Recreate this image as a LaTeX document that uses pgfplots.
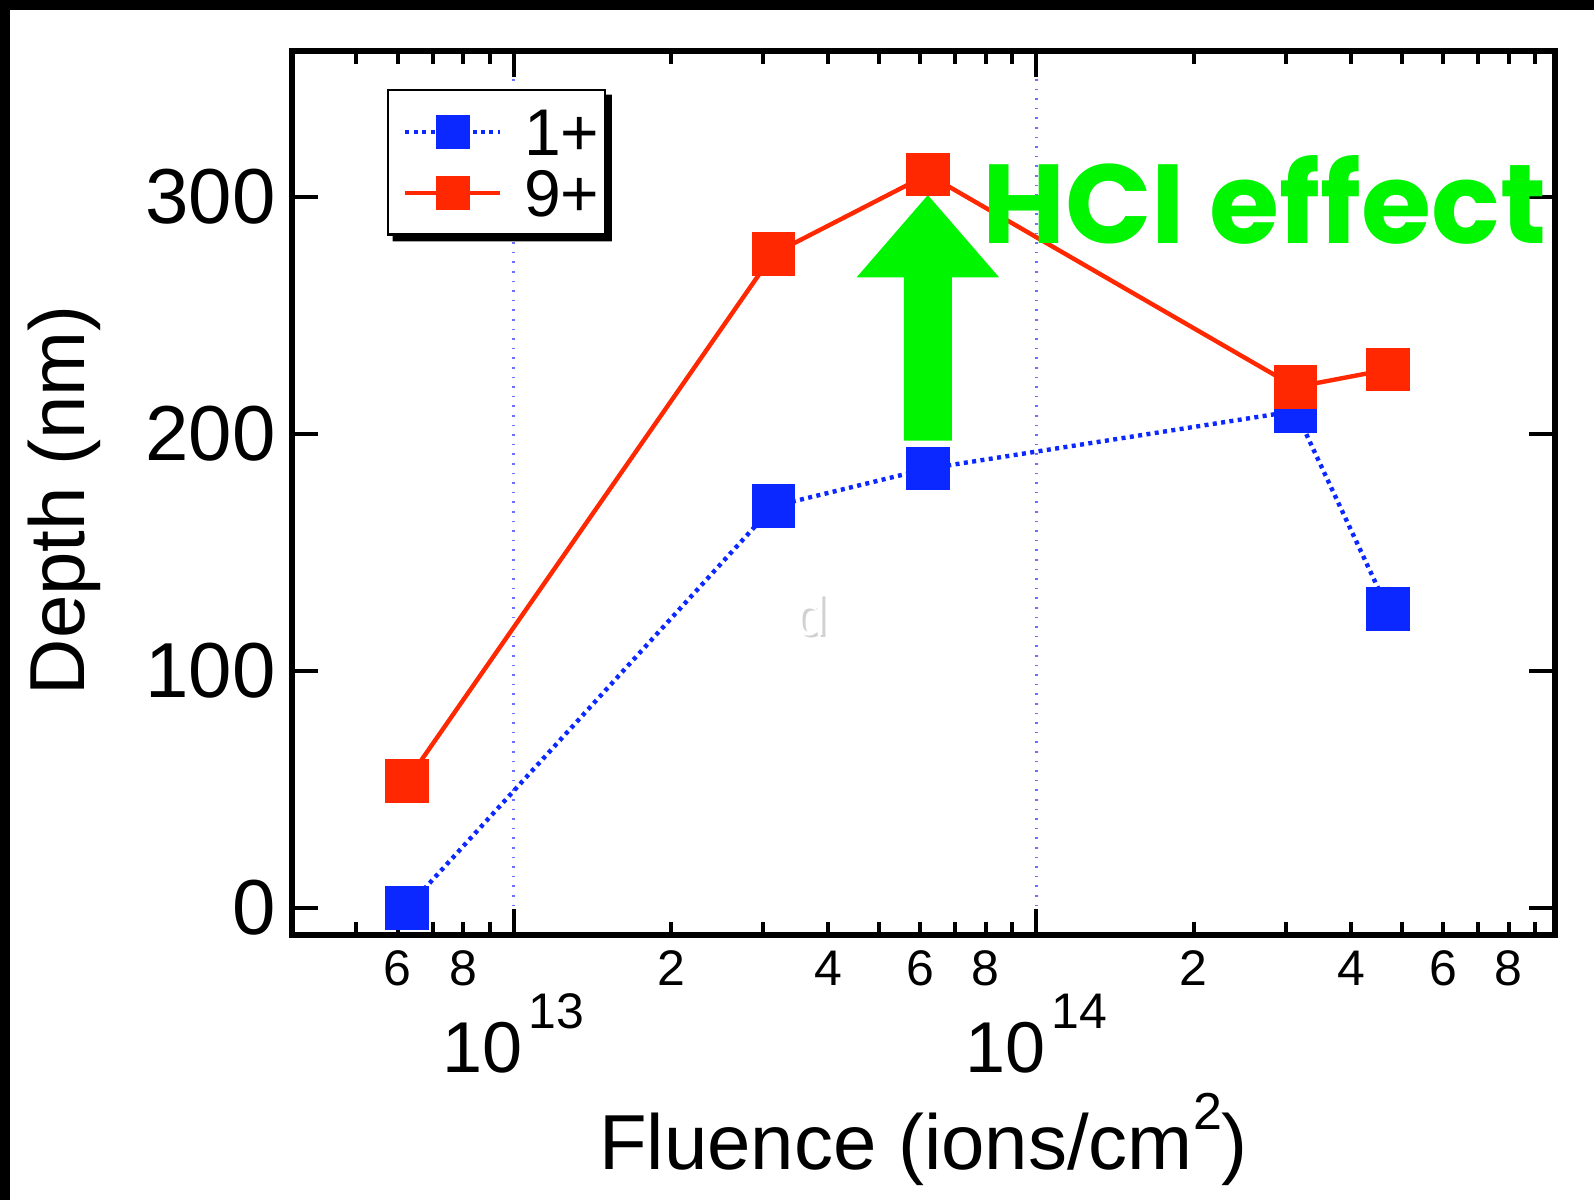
\documentclass[border=0pt]{standalone}
\usepackage{pgfplots}
\pgfplotsset{compat=1.18}
\usepackage{fontspec}
\setmainfont{Liberation Sans}
\newfontfamily\hcifont{Poppins}

\definecolor{ionblue}{RGB}{10,40,255}
\definecolor{ionred}{RGB}{255,40,0}
\definecolor{hcigreen}{RGB}{0,245,0}
\definecolor{gridblue}{RGB}{110,110,255}

\begin{document}
\begin{tikzpicture}
% page background with the black top/left bands
\fill[white] (-73pt,-66.25pt) rectangle (325.5pt,233.75pt);
\fill[black] (-73pt,231.25pt) rectangle (325.5pt,233.75pt);
\fill[black] (-73pt,-66.25pt) rectangle (-70.5pt,233.75pt);

\begin{axis}[name=ax, at={(0,0)}, anchor=south west,
  scale only axis, width=315.75pt, height=221pt,
  xmode=log, log basis x=10,
  xmin=3.77e12, xmax=9.82e14, ymin=-11.4, ymax=361.6,
  clip=false,
  axis line style={line width=1.4pt},
  tick style={line width=1pt, black},
  major tick length=3.25pt, minor tick length=3.25pt,
  tick align=inside, xtick pos=both, ytick pos=both,
  % labelled minor positions as the normal ticks
  xtick={6e12,8e12,2e13,4e13,6e13,8e13,2e14,4e14,6e14,8e14},
  xticklabels={6,8,2,4,6,8,2,4,6,8},
  xticklabel style={font=\fontsize{12.5}{13}\selectfont, anchor=north, inner sep=0pt, yshift=-3.75pt},
  minor xtick={5e12,7e12,9e12,3e13,5e13,7e13,9e13,3e14,5e14,7e14,9e14},
  % decades as extra ticks with grid lines
  extra x ticks={1e13,1e14},
  extra x tick labels={10\kern1.5pt\raisebox{11pt}{\fontsize{12.5}{13}\selectfont 13},
                       10\kern1.5pt\raisebox{11pt}{\fontsize{12.5}{13}\selectfont 14}},
  extra x tick style={major tick length=6.5pt, grid=major,
    xticklabel style={font=\fontsize{18}{18}\selectfont, anchor=base, yshift=-30.65pt}},
  ytick=\empty,
  extra y ticks={0,100,200,300}, extra y tick labels={0,100,200,300},
  extra y tick style={major tick length=6.5pt},
  minor ytick={50,150,250,350},
  yticklabel style={font=\fontsize{19.5}{20}\selectfont, inner sep=0pt, xshift=-3.9pt},
  major grid style={gridblue, dotted, line width=0.6pt},
  xlabel={Fluence (ions/cm\raisebox{10pt}{\fontsize{13}{13}\selectfont 2})},
  xlabel style={font=\fontsize{19.5}{20}\selectfont, at={(axis description cs:0.5,0)}, anchor=base, yshift=-58.5pt},
  ylabel={Depth (nm)},
  ylabel style={font=\fontsize{19.5}{20}\selectfont, at={(axis description cs:-0.180,0.492)}, anchor=center},
  legend style={name=leg, at={(axis description cs:0.0752,0.957)}, anchor=north west,
    draw=black, line width=0.6pt, fill=white,
    font=\fontsize{16.5}{16.5}\selectfont,
    inner xsep=3.75pt, inner ysep=2.85pt, column sep=5.5pt, row sep=0pt,
    nodes={inner sep=0pt, text height=13.5pt, text depth=1.7pt}},
  legend cell align=left,
  legend image code/.code={
    \draw[#1, mark size=4.1pt, mark repeat=2, mark phase=2] plot coordinates {(0pt,0pt)(11.8pt,0pt)(23.6pt,0pt)};
  },
]
\addplot[ionblue, line width=1.1pt, dash pattern=on 1pt off 1.1pt,
  mark=square*, mark size=5.3pt, mark options={solid, fill=ionblue, draw=ionblue, line width=0.3pt}]
  coordinates {(6.25e12,0) (3.14e13,169.5) (6.2e13,185.4) (3.13e14,209.7) (4.7e14,126.2)};
\addlegendentry{1+\kern-2.3pt}
\addplot[ionred, line width=1.1pt,
  mark=square*, mark size=5.3pt, mark options={solid, fill=ionred, draw=ionred, line width=0.3pt}]
  coordinates {(6.25e12,53.6) (3.14e13,276) (6.2e13,309.5) (3.13e14,219.8) (4.7e14,227.2)};
\addlegendentry{9+\kern-2.3pt}

% HCI arrow
\fill[hcigreen] ([xshift=-6pt]axis cs:6.2e13,197.2) -- ([xshift=-6pt]axis cs:6.2e13,266.1)
  -- ([xshift=-17.8pt]axis cs:6.2e13,266.1) -- (axis cs:6.2e13,300.8)
  -- ([xshift=17.8pt]axis cs:6.2e13,266.1) -- ([xshift=6pt]axis cs:6.2e13,266.1)
  -- ([xshift=6pt]axis cs:6.2e13,197.2) -- cycle;
\node[anchor=base west, inner sep=0pt, text=hcigreen] at (axis cs:7.85e13,280.2)
  {\resizebox{141pt}{22pt}{\hcifont\bfseries HCI effect}};
% faint letter
\node[inner sep=0pt, text=black!18, font=\fontsize{14}{14}\selectfont] at ([xshift=0.7pt,yshift=-0.7pt]axis cs:3.71e13,123.6) {d};
\node[inner sep=0pt, text=white, font=\fontsize{14}{14}\selectfont] at (axis cs:3.71e13,123.6) {d};
\end{axis}
% legend shadow (L-shaped strip on the lower right)
\fill[black] ([xshift=1.4pt]leg.south west) -- ([xshift=1.4pt,yshift=-1.4pt]leg.south west)
  -- ([xshift=1.4pt,yshift=-1.4pt]leg.south east) -- ([xshift=1.4pt,yshift=-1.4pt]leg.north east)
  -- ([yshift=-1.4pt]leg.north east) -- (leg.south east) -- cycle;
\pgfresetboundingbox
\useasboundingbox (-73pt,-66.25pt) rectangle (325.5pt,233.75pt);
\end{tikzpicture}
\end{document}
